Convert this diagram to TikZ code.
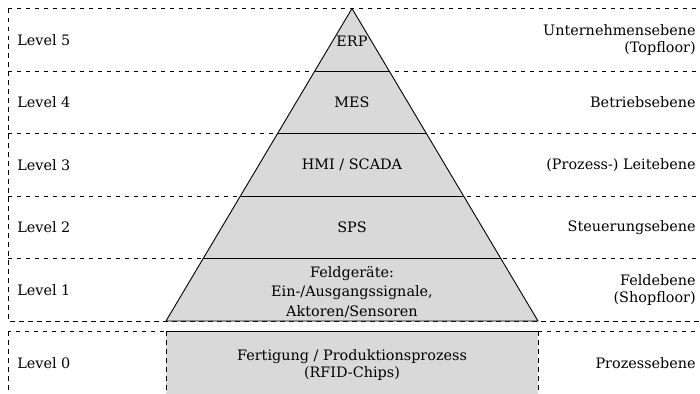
\documentclass[tikz,border=0pt]{standalone}
\usepackage{fontspec}
\setmainfont{DejaVu Serif}
\usetikzlibrary{calc}

\tikzset{
  lvl/.style={anchor=west, inner sep=0pt},
  ebene/.style={anchor=east, align=right, inner sep=0pt},
  schicht/.style={align=center, inner sep=0pt},
  kante/.style={semithick},
}

\begin{document}
\begin{tikzpicture}[x=0.6667pt, y=-0.6667pt, font=\fontsize{9.6}{11.6}\selectfont]
\clip (0,0) rectangle (700,394);
% Level 1 bis 5
\draw[dashed] (8,8.5) rectangle (710,321);
\foreach \y in {71,133.5,196,258.5}
  \draw[dashed] (8,\y) -- (710,\y);
% Level 0
\draw[dashed] (8,331) rectangle (710,400);

% Pyramide
\coordinate (spitze) at (352,8.5);
\coordinate (bl) at (166,321);
\coordinate (br) at (538,321);
\fill[black!15] (spitze) -- (br) -- (bl) -- cycle;
\draw[kante] (spitze) -- (br) -- (bl) -- cycle;
\foreach \f in {0.2,0.4,0.6,0.8}
  \draw[kante] ($(spitze)!\f!(bl)$) -- ($(spitze)!\f!(br)$);

% Prozess
\fill[black!15] (166,331) rectangle (538,400);
\draw[kante] (166,331) -- (538,331);
\draw[dashed] (166,331) -- (166,400) (538,331) -- (538,400);

% Level
\foreach \n/\y in {5/39.75,4/102.25,3/164.75,2/227.25,1/289.75,0/363}
  \node[lvl] (lvl\n) at (17,\y) {Level \n};

% Systeme
\node[schicht] (erp) at (352,41) {ERP};
\node[schicht] (mes) at (352,102.25) {MES};
\node[schicht] (scada) at (352,164.75) {HMI / SCADA};
\node[schicht] (sps) at (352,227.25) {SPS};
\node[schicht, font=\fontsize{9.6}{13}\selectfont] (feld) at (352,292) {Feldgeräte:\\Ein-/Ausgangssignale,\\Aktoren/Sensoren};
\node[schicht] (fert) at (352,365) {Fertigung / Produktionsprozess\\(RFID-Chips)};

% Ebenen
\node[ebene] (e5) at (696,39.75) {Unternehmensebene\\(Topfloor)};
\node[ebene] (e4) at (696,102.25) {Betriebsebene};
\node[ebene] (e3) at (696,164.75) {(Prozess-) Leitebene};
\node[ebene] (e2) at (696,227.25) {Steuerungsebene};
\node[ebene] (e1) at (696,289.75) {Feldebene\\(Shopfloor)};
\node[ebene] (e0) at (696,363) {Prozessebene};
\end{tikzpicture}
\end{document}
